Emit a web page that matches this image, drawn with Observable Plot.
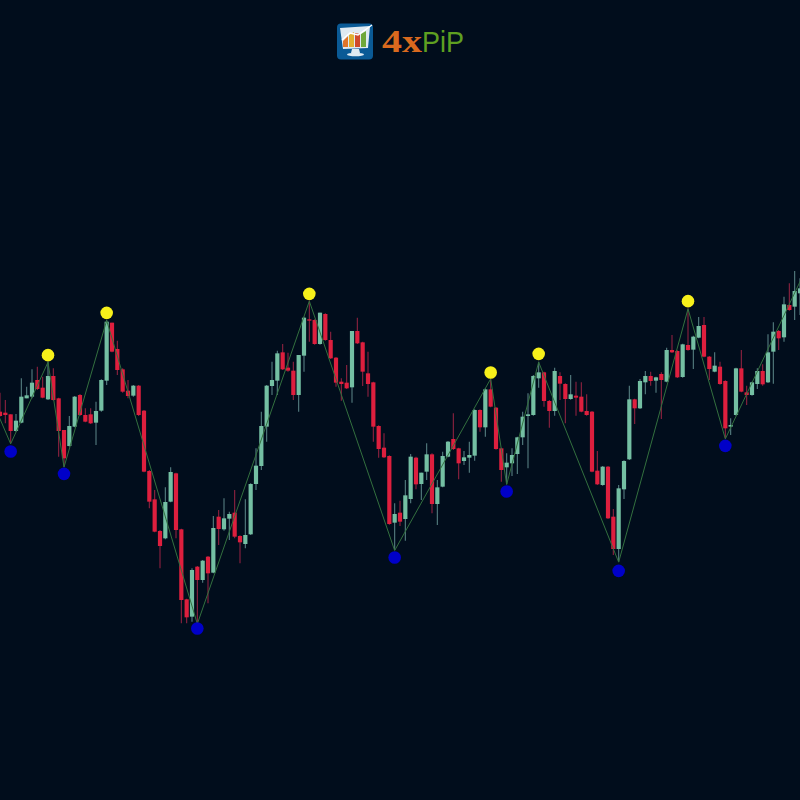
<!DOCTYPE html>
<html><head><meta charset="utf-8">
<script src="https://cdn.jsdelivr.net/npm/d3@7"></script>
<script src="https://cdn.jsdelivr.net/npm/@observablehq/plot@0.6"></script>
<style>
html,body{margin:0;padding:0;background:#010d1c;overflow:hidden}
#wrap{position:relative;width:800px;height:800px}
#logo{position:absolute;left:337px;top:23px}
</style></head><body>
<div id="wrap"><div id="chart"></div>
<svg id="logo" width="150" height="40" viewBox="0 0 150 40">
<rect x="0" y="0.5" width="36" height="36" rx="4" fill="#0a5a96"/>
<path d="M3 5 L33 3 L31 25 L6 26 Z" fill="#dfeaf2"/>
<path d="M6 24 V18 L11 13 V24Z" fill="#e0752a"/><path d="M12 24 V12 L17 9 V24Z" fill="#e2b030"/><path d="M18 24 V10 L23 11 V24Z" fill="#cf4a2c"/><path d="M24 24 V11 L29 8 V24Z" fill="#6fa83a"/>
<path d="M5 17 L13 10 L21 12 L35 2" stroke="#fff" stroke-width="1.3" fill="none"/>
<path d="M15 26 H22 L23 30 H14Z" fill="#dfeaf2"/><ellipse cx="18.5" cy="31.5" rx="8.5" ry="1.8" fill="#dfeaf2"/>
<text x="45" y="29" textLength="40" lengthAdjust="spacingAndGlyphs" font-family="Liberation Serif" font-weight="700" font-size="31" fill="#d9691e">4x</text>
<text x="85" y="29" textLength="42" lengthAdjust="spacingAndGlyphs" font-family="Liberation Sans" font-size="30" fill="#5fa021">PiP</text>
</svg></div>
<script>
const open=[1165,1162,1157,1107,1132,1205,1210,1260,1237,1202,1272,1205,1110,1062,1120,1215,1155,1157,1132,1168,1258,1432,1353,1292,1228,1213,1243,1168,987,902,807,785,895,980,812,602,550,700,660,730,682,850,812,844,862,792,768,797,948,1002,
1120,1242,1258,1343,1297,1288,1215,1333,1442,1440,1368,1458,1380,1327,1255,1252,1238,1407,1373,1280,1253,1122,1057,1032,832,862,843,903,1027,948,985,1037,888,940,1030,1083,1055,1017,1027,1033,1170,1118,1232,1177,1055,998,1010,1038,1088,1152,
1155,1265,1283,1197,1167,1272,1248,1203,1213,1210,1167,1165,988,945,1000,850,753,932,1022,1202,1175,1253,1272,1258,1278,1255,1350,1347,1269,1365,1351,1387,1425,1330,1285,1300,1257,1120,1155,1295,1223,1215,1248,1287,1253,1345,1407,1388,1485,1480,1520];
const high=[1222,1200,1157,1158,1265,1240,1292,1300,1270,1315,1295,1207,1110,1152,1212,1218,1175,1175,1195,1262,1440,1432,1378,1295,1260,1245,1245,1170,990,930,810,938,998,982,814,604,695,702,720,732,852,870,905,865,930,794,902,950,1055,1165,
1245,1315,1348,1368,1342,1315,1335,1450,1498,1442,1462,1460,1405,1329,1265,1305,1407,1447,1375,1345,1255,1124,1100,1034,890,898,960,1038,1030,982,1070,1040,960,1045,1077,1160,1057,1047,1075,1172,1172,1235,1265,1179,1057,1040,1055,1090,1165,1220,
1275,1315,1285,1200,1297,1283,1250,1275,1255,1253,1217,1167,1047,1002,1002,873,945,1019,1243,1204,1263,1287,1285,1270,1283,1357,1395,1349,1369,1475,1393,1449,1449,1332,1343,1315,1259,1145,1297,1350,1243,1255,1295,1307,1397,1433,1410,1510,1550,1587,1565];
const low=[1150,1130,1070,1105,1130,1205,1205,1230,1205,1200,1198,1030,1000,1060,1118,1152,1133,1128,1065,1165,1245,1343,1275,1222,1205,1210,1152,983,875,803,695,782,893,785,530,530,535,530,652,590,680,765,808,780,785,710,755,795,930,990,
1075,1215,1215,1290,1285,1200,1165,1285,1375,1366,1366,1378,1323,1240,1198,1233,1192,1368,1242,1210,1075,1027,1026,826,750,822,778,890,932,900,960,860,825,938,1028,1050,962,1005,982,1018,1105,1090,1178,1051,955,948,972,978,1065,995,
1153,1237,1180,1117,1153,1200,1130,1201,1153,1163,1153,983,945,943,843,735,715,903,1020,1128,1173,1217,1243,1222,1143,1253,1341,1266,1267,1348,1293,1385,1328,1260,1283,1246,1085,1095,1153,1223,1185,1213,1233,1243,1251,1249,1350,1375,1468,1440,1455];
const close=[1152,1155,1107,1138,1210,1214,1252,1233,1207,1272,1200,1107,1025,1122,1210,1155,1135,1130,1167,1260,1435,1345,1290,1225,1212,1243,1155,985,895,805,762,894,984,810,600,548,690,660,718,680,816,813,845,858,790,773,795,948,1003,1122,
1243,1260,1340,1292,1288,1215,1335,1447,1438,1368,1462,1380,1325,1252,1248,1235,1407,1370,1285,1248,1120,1053,1028,828,858,835,914,1030,947,982,1037,888,938,1032,1075,1053,1010,1028,1035,1170,1118,1232,1180,1053,990,1012,1035,1088,1150,1157,
1272,1283,1197,1167,1287,1249,1203,1217,1207,1165,1155,985,947,1000,845,753,935,1017,1202,1175,1257,1272,1257,1268,1260,1350,1343,1268,1367,1350,1390,1422,1330,1293,1303,1248,1115,1125,1295,1225,1215,1253,1287,1247,1343,1405,1385,1487,1470,1527,1535];
const pivotIndex=[-3,2,9,12,20,37,58,74,92,95,101,116,129,136,151];
const pivotPrice=[1257,1070,1315,1000,1440,530,1498,750,1265,948,1315,715,1475,1085,1590];
const peakIndex=[9,20,58,92,101,129];
const peakLevel=[1336,1463,1520,1284,1340,1498];
const troughIndex=[2,12,37,74,95,116,136];
const troughLevel=[1047,980,516,729,927,689,1064];

const candles=open.map((o,i)=>({i,o,h:high[i],l:low[i],c:close[i],up:close[i]>=o}));
const pivots=pivotIndex.map((x,k)=>({x,y:pivotPrice[k]}));
const peaks=peakIndex.map((x,k)=>({x,y:peakLevel[k]}));
const troughs=troughIndex.map((x,k)=>({x,y:troughLevel[k]}));
const GREEN="#74bfa3",RED="#de1f3e",GW="#567f82",RW="#8f2240";
const chart=Plot.plot({
  width:800,height:800,margin:0,
  style:{background:"transparent"},
  x:{domain:[0,150],range:[-0.5,799.5],axis:null},
  y:{domain:[0,2400],range:[800,0],axis:null},
  marks:[
    Plot.ruleX(candles,{x:"i",y1:"l",y2:"h",stroke:d=>d.up?GW:RW,strokeWidth:1.1}),
    Plot.ruleX(candles,{x:"i",y1:"o",y2:"c",stroke:d=>d.up?GREEN:RED,strokeWidth:4.2}),
    Plot.line(pivots,{x:"x",y:"y",stroke:"#33703f",strokeWidth:1}),
    Plot.dot(peaks,{x:"x",y:"y",r:6.3,fill:"#f7f01a"}),
    Plot.dot(troughs,{x:"x",y:"y",r:6.3,fill:"#0000c8"})
  ]
});
document.getElementById("chart").appendChild(chart);
</script></body></html>
